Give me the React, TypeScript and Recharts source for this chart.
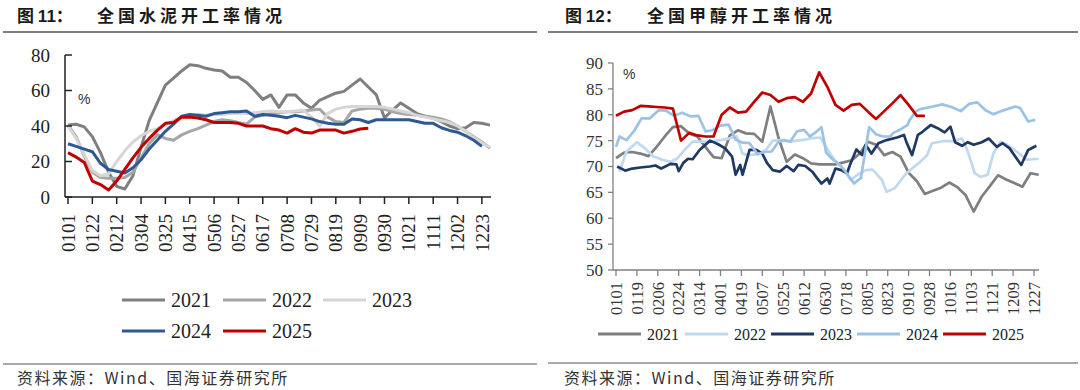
import React from 'react';
import { LineChart, Line, XAxis, YAxis } from 'recharts';

// ---------- Figure 11: cement operating rate (weekly, %) ----------
const cementWeeks = ['0101','0108','0115','0122','0129','0205','0212','0219','0226','0304','0311','0318','0325','0401','0408','0415','0422','0429','0506','0513','0520','0527','0603','0610','0617','0624','0701','0708','0715','0722','0729','0805','0812','0819','0826','0902','0909','0916','0923','0930','1007','1014','1021','1028','1104','1111','1118','1125','1202','1209','1216','1223','1230'];
const cement2021 = [40.5,41,39.5,34,25,14,6,4.5,12,28,43,53,63,67,71,74.5,74,72.5,71.5,71,67.5,67.5,64.5,60,55,57.5,50.5,57.5,57.5,53,50,54.5,56.5,58.5,59.5,63,66.5,62,57.5,44.5,49,53,50,47,45.5,44.5,42.5,40,38.5,39,42,41.5,40.5];
const cement2022 = [40.5,34,23,14,11,10.5,10.5,11,14,22,30,35,33,32,35,37,38.5,40.5,42.5,43.5,43,42,41,45,46,47,47.5,48,48,48.5,49,49.5,45,42.5,42,48.5,49.5,50,50,49.5,48,47,46.5,46,45.5,45,44,42.5,40,37,34,31,27.5];
const cement2023 = [40,33,24,15,12,13,20,26,31,34.5,37,38.5,40.5,43,45,46,46.5,46,46.5,46.5,47,47,47,47.5,48,48.5,48,48,48.5,49,45,40,47,49.5,50.5,51,51,51,51,50.5,49.5,48.5,47.5,46,45,44,43,42,40,37,33.5,30.5,28];
const cement2024 = [30,28.5,27,25.5,19,15.5,14.5,13.5,16.5,21,27,32,37,41,45.5,46.5,46,45.5,47,47.5,48,48,48.5,45.5,46.5,46,45.5,44.7,46,45,44,42.5,41.5,41,41,44,43.5,42,43.5,43.5,43.5,43.5,43.5,42.5,41.5,41.5,39,37.5,36.5,34.5,32,28.5];
const cement2025 = [25,22.5,19.5,9,7,4,9,15.5,22,28,33,37.5,41.5,42,45,45,44.5,43.5,42,42,42,41.5,40,40,40,38.5,37.7,36,38.5,36.5,36,37.7,37.7,37.7,36,37,38.3,38.7];
const cementYTicks = [0, 20, 40, 60, 80];

// ---------- Figure 12: methanol operating rate (%) ----------
const methanolWeekDays = [1,8,15,22,29,36,43,50,57,64,71,78,85,92,99,106,113,120,127,134,141,148,155,162,169,176,183,190,197,204,211,218,225,232,239,246,253,260,267,274,281,288,295,302,309,316,323,330,337,344,351,358,365];
const methanol2021 = [71.6,72.7,72.8,72.5,72,73.8,75.8,77.6,77.8,76.4,75.8,73.8,71.8,71.6,76,77,76.4,76.3,74.8,81.6,75.5,70.9,72.3,71.6,70.6,70.4,70.4,70.4,70.8,71.2,72.5,74.8,74.2,72.2,72.8,71.9,68.8,67.2,64.7,65.3,65.9,66.9,66,64.5,61.3,64.2,66.2,68.3,67.5,66.8,66.1,68.7,68.4];
const methanol2025 = [79.8,80.6,80.9,81.7,81.6,81.5,81.4,81.2,75,76.5,76,75.8,75.8,80,81.4,80.4,80.6,82.5,84.3,83.8,82.5,83.2,83.4,82.5,84.1,88.2,85.4,81.9,80.8,81.9,82.1,80.6,79.2,80.7,82.2,83.8,81.9,79.8,79.8];
const methanol2022Days = [4,10,19,26,33,41,48,54,60,67,73,82,91,98,105,110,116,123,130,136,144,151,157,164,170,177,184,190,197,203,209,216,222,230,234,241,250,256,263,269,273,283,291,299,304,310,315,321,326,332,338,346,355,365];
const methanol2022 = [69,72.9,74.7,73.5,72,71.3,70.9,71.6,73.2,74.8,74.8,74.8,75.1,75.4,75.8,72.5,72.2,72.4,73.2,75,75.1,74.8,75,75.2,75.5,75.6,73,71,69.5,67.4,68.4,69.3,69.4,67.4,65.1,65.8,68.4,69.6,70.9,72.2,74.5,74.9,74.9,75.4,72.9,68.7,68,68.4,72.5,74.8,74.2,72.9,71.3,71.5];
const methanol2023Days = [2,9,15,22,30,35,40,48,53,55,59,63,67,73,82,89,95,101,104,108,110,116,122,127,131,136,142,148,154,158,164,170,174,178,183,185,190,195,200,203,208,213,216,221,227,234,243,249,251,256,261,265,272,278,284,289,293,299,304,309,316,322,329,334,340,345,350,356,363];
const methanol2023 = [70,69.2,69.6,69.8,70,70.2,69.6,70.5,70.4,69.1,70.7,71.5,71.4,73.2,75,74.3,73.5,71.9,68.4,70.3,68.4,73.2,73.2,72.5,70.7,69.3,69,70.1,69.1,70.3,70.1,69,67.8,66.7,67.7,66.7,69.6,69.3,68.7,70.6,73.3,72.2,74.2,72.5,74.5,75.1,75.6,76.1,74.8,72.2,76.1,76.7,78,77.4,76.6,77.7,74.7,74,74.7,74.2,74.7,75.4,73.8,74.5,73.5,71.9,70.3,73.2,74];
const methanol2024Days = [1,4,10,17,23,30,38,44,51,58,65,72,78,84,91,98,104,110,116,123,129,135,141,146,151,157,163,168,174,178,182,187,194,200,206,212,219,225,231,237,240,247,252,254,259,263,272,282,290,298,305,312,319,326,334,345,349,356,362];
const methanol2024 = [73.8,75.8,75.1,77,79.3,79.3,80.9,80.8,79.8,80.4,79.7,79.8,76.8,77,77.9,78.1,75.2,74.6,74.5,72.4,72.8,72.9,74.8,75.1,74.8,76.8,77.1,75.8,76.8,77.6,72.7,71.5,70.3,68.6,66.7,67.8,77.6,76.2,75.8,75.8,76.5,77.3,78,79,80.6,81.1,81.5,82,81.5,80.7,82.1,82.4,80.9,80.1,80.8,81.6,81.3,78.7,79];
const methanolTickDays = [1,19,37,55,73,91,109,127,145,163,181,199,217,235,253,271,289,307,325,343,361];
const methanolTickLabels = ['0101','0119','0206','0224','0314','0401','0419','0507','0525','0612','0630','0718','0805','0823','0910','0928','1016','1103','1121','1209','1227'];
const methanolYTicks = [50, 55, 60, 65, 70, 75, 80, 85, 90];

// ---------- build tables ----------
const cementData = cementWeeks.map((w, i) => ({
  week: w,
  y2021: cement2021[i] ?? null,
  y2022: cement2022[i] ?? null,
  y2023: cement2023[i] ?? null,
  y2024: cement2024[i] ?? null,
  y2025: cement2025[i] ?? null,
}));

const methanolRows = new Map<number, any>();
const addSeries = (days: number[], vals: number[], key: string) => {
  days.forEach((d, i) => {
    if (vals[i] === undefined) return;
    if (!methanolRows.has(d)) methanolRows.set(d, { day: d });
    methanolRows.get(d)[key] = vals[i];
  });
};
addSeries(methanolWeekDays, methanol2021, 'm2021');
addSeries(methanol2022Days, methanol2022, 'm2022');
addSeries(methanol2023Days, methanol2023, 'm2023');
addSeries(methanol2024Days, methanol2024, 'm2024');
addSeries(methanolWeekDays, methanol2025, 'm2025');
const methanolData = Array.from(methanolRows.values()).sort((a, b) => a.day - b.day);

const SERIF = '"Liberation Serif", "Times New Roman", serif';
const CJK = '"Noto Sans CJK SC", sans-serif';

const cementColors = ['#7f7f7f', '#a6a6a6', '#d6d6d6', '#2e5a94', '#c00000'];
const methanolColors = ['#7f7f7f', '#c0d9ef', '#1f3864', '#9cc3e6', '#c00000'];
const years = ['2021', '2022', '2023', '2024', '2025'];

const CementXTick = (props: any) => {
  const { x, y, payload } = props;
  return (
    <g>
      <line x1={x} x2={x} y1={y} y2={y + 7} stroke="#222" strokeWidth={1.5} />
      <text x={x} y={y + 17} transform={`rotate(-90 ${x} ${y + 17})`} textAnchor="end" dy="0.35em"
        fontSize={19} fontFamily={SERIF} fill="#222">{payload.value}</text>
    </g>
  );
};
const CementYTick = (props: any) => {
  const { x, y, payload } = props;
  return (
    <g>
      <line x1={x} x2={x + 7} y1={y} y2={y} stroke="#222" strokeWidth={1.5} />
      <text x={x - 15} y={y} dy="0.35em" textAnchor="end" fontSize={19} fontFamily={SERIF} fill="#222">{payload.value}</text>
    </g>
  );
};
const MethXTick = (props: any) => {
  const { x, y, payload } = props;
  const idx = methanolTickDays.indexOf(payload.value);
  const label = idx >= 0 ? methanolTickLabels[idx] : '';
  return (
    <g>
      <line x1={x} x2={x} y1={y} y2={y + 6} stroke="#808080" strokeWidth={1.3} />
      <text x={x} y={y + 12} transform={`rotate(-90 ${x} ${y + 12})`} textAnchor="end" dy="0.35em"
        fontSize={16.5} fontFamily={SERIF} fill="#333">{label}</text>
    </g>
  );
};
const MethYTick = (props: any) => {
  const { x, y, payload } = props;
  return (
    <g>
      <line x1={x - 5} x2={x} y1={y} y2={y} stroke="#808080" strokeWidth={1.3} />
      <text x={x - 10} y={y} dy="0.35em" textAnchor="end" fontSize={17} fontFamily={SERIF} fill="#333">{payload.value}</text>
    </g>
  );
};

const LegendItem = ({ x, y, color, label, len, fontSize }: any) => (
  <g>
    <line x1={x} x2={x + len} y1={y} y2={y} stroke={color} strokeWidth={3.2} />
    <text x={x + len + 6} y={y} dy="0.35em" fontSize={fontSize} fontFamily={SERIF} fill="#222">{label}</text>
  </g>
);

export default function App() {
  return (
    <div style={{ position: 'absolute', left: 0, top: 0, width: 1080, height: 390, background: '#fff', overflow: 'hidden' }}>
      <div style={{ position: 'absolute', left: 0, top: 0 }}>
        <LineChart width={540} height={390} data={cementData} margin={{ top: 55, right: 49, bottom: 133, left: 15 }}>
          <XAxis dataKey="week" interval={2} tickLine={false} tickSize={0} tickMargin={0} height={60}
            padding={{ left: 3, right: 1 }} axisLine={{ stroke: '#222', strokeWidth: 1.5 }} tick={CementXTick} />
          <YAxis domain={[0, 80]} ticks={cementYTicks} width={50} tickLine={false} tickSize={0} tickMargin={0}
            axisLine={{ stroke: '#222', strokeWidth: 1.5 }} tick={CementYTick} />
          {years.map((yr, i) => (
            <Line key={yr} dataKey={`y${yr}`} stroke={cementColors[i]} strokeWidth={3} dot={false}
              isAnimationActive={false} strokeLinejoin="round" />
          ))}
        </LineChart>
      </div>
      <div style={{ position: 'absolute', left: 540, top: 0 }}>
        <LineChart width={540} height={390} data={methanolData} margin={{ top: 63, right: 41, bottom: 70, left: 13 }}>
          <XAxis dataKey="day" type="number" domain={[-1.58, 365.3]} allowDataOverflow ticks={methanolTickDays}
            interval={0} tickLine={false} tickSize={0} tickMargin={0} height={50}
            axisLine={{ stroke: '#808080', strokeWidth: 1.3 }} tick={MethXTick} />
          <YAxis domain={[50, 90]} ticks={methanolYTicks} interval={0} width={60} tickLine={false} tickSize={0} tickMargin={0}
            axisLine={{ stroke: '#808080', strokeWidth: 1.3 }} tick={MethYTick} />
          {years.map((yr, i) => (
            <Line key={yr} dataKey={`m${yr}`} stroke={methanolColors[i]} strokeWidth={2.7} dot={false}
              connectNulls isAnimationActive={false} strokeLinejoin="round" />
          ))}
        </LineChart>
      </div>
      <svg width={1080} height={390} style={{ position: 'absolute', left: 0, top: 0, pointerEvents: 'none' }}>
        {/* titles */}
        <text x={17} y={22} fontSize={17} fontWeight={700} fontFamily={CJK} fill="#1a1a1a">图 <tspan fontFamily='"Liberation Sans", Arial, sans-serif'>11</tspan>：</text>
        <text x={97} y={22} fontSize={17} fontWeight={700} fontFamily={CJK} fill="#1a1a1a" letterSpacing={4}>全国水泥开工率情况</text>
        <text x={565} y={22} fontSize={17} fontWeight={700} fontFamily={CJK} fill="#1a1a1a">图 <tspan fontFamily='"Liberation Sans", Arial, sans-serif'>12</tspan>：</text>
        <text x={647} y={22} fontSize={17} fontWeight={700} fontFamily={CJK} fill="#1a1a1a" letterSpacing={4}>全国甲醇开工率情况</text>
        <line x1={3} x2={537} y1={32} y2={32} stroke="#555" strokeWidth={1.5} />
        <line x1={548} x2={1078} y1={32} y2={32} stroke="#555" strokeWidth={1.5} />
        {/* unit marks */}
        <text x={78} y={104} fontSize={14} fontFamily='"Liberation Sans", Arial, sans-serif' fill="#333">%</text>
        <text x={623} y={79} fontSize={14} fontFamily='"Liberation Sans", Arial, sans-serif' fill="#333">%</text>
        {/* left legend */}
        <LegendItem x={122} y={300} len={43} color={cementColors[0]} label={years[0]} fontSize={20} />
        <LegendItem x={223} y={300} len={43} color={cementColors[1]} label={years[1]} fontSize={20} />
        <LegendItem x={323} y={300} len={43} color={cementColors[2]} label={years[2]} fontSize={20} />
        <LegendItem x={122} y={331} len={43} color={cementColors[3]} label={years[3]} fontSize={20} />
        <LegendItem x={223} y={331} len={43} color={cementColors[4]} label={years[4]} fontSize={20} />
        {/* right legend */}
        <LegendItem x={598} y={334} len={43} color={methanolColors[0]} label={years[0]} fontSize={16} />
        <LegendItem x={685} y={334} len={43} color={methanolColors[1]} label={years[1]} fontSize={16} />
        <LegendItem x={771} y={334} len={43} color={methanolColors[2]} label={years[2]} fontSize={16} />
        <LegendItem x={857} y={334} len={43} color={methanolColors[3]} label={years[3]} fontSize={16} />
        <LegendItem x={943} y={334} len={43} color={methanolColors[4]} label={years[4]} fontSize={16} />
        {/* sources */}
        <line x1={3} x2={537} y1={364} y2={364} stroke="#555" strokeWidth={1.2} />
        <line x1={548} x2={1078} y1={363} y2={363} stroke="#555" strokeWidth={1.2} />
        <text x={17} y={384} fontSize={16} fontFamily={CJK} fill="#333" letterSpacing={1.5}>资料来源：Wind、国海证券研究所</text>
        <text x={564} y={384} fontSize={16} fontFamily={CJK} fill="#333" letterSpacing={1.5}>资料来源：Wind、国海证券研究所</text>
      </svg>
    </div>
  );
}
